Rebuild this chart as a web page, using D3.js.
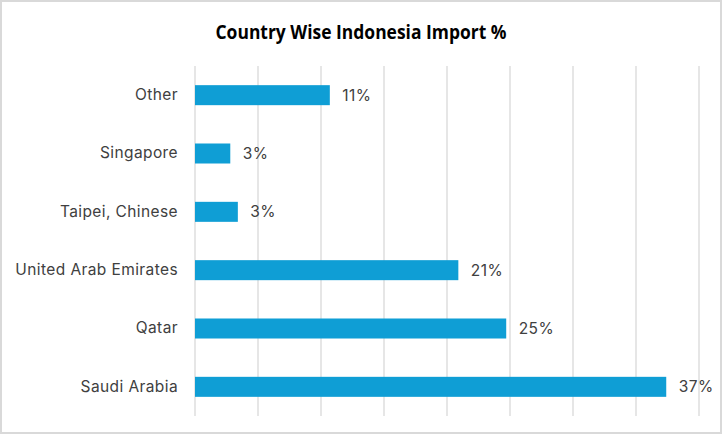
<!DOCTYPE html>
<html><head><meta charset="utf-8">
<script src="https://cdn.jsdelivr.net/npm/d3@7"></script>
<style>body{margin:0;background:#fff}svg{display:block}</style>
</head><body>
<svg id="c" width="722" height="434"></svg>
<script>
const categories = ["Other","Singapore","Taipei, Chinese","United Arab Emirates","Qatar","Saudi Arabia"];
const values = [0.107, 0.028, 0.034, 0.209, 0.247, 0.374];
const valueLabels = ["11%","3%","3%","21%","25%","37%"];
const gridTicks = [0,0.05,0.10,0.15,0.20,0.25,0.30,0.35,0.40];
const title = "Country Wise Indonesia Import %";

const svg = d3.select("#c");
svg.append("rect").attr("x",1).attr("y",1).attr("width",720).attr("height",432)
  .attr("fill","#fff").attr("stroke","#d9d9d9").attr("stroke-width",2);

const x = d3.scaleLinear().domain([0,0.40]).range([195,699]);
const y = d3.scaleBand().domain(categories).range([66,416]).paddingInner(0.657).paddingOuter(0.3285);

svg.append("g").selectAll("line").data(gridTicks).join("line")
  .attr("x1",d=>x(d)).attr("x2",d=>x(d)).attr("y1",66).attr("y2",416)
  .attr("stroke","#d9d9d9").attr("stroke-width",1.3);

svg.append("g").selectAll("rect").data(categories).join("rect")
  .attr("x",x(0)).attr("y",d=>y(d)).attr("height",y.bandwidth())
  .attr("width",(d,i)=>x(values[i])-x(0)).attr("fill","#0f9ed5");

const lblFont = "Inter, 'Open Sans', sans-serif";
svg.append("g").selectAll("text").data(categories).join("text")
  .attr("x",(d,i)=>x(values[i])+12.5).attr("y",d=>y(d)+y.bandwidth()/2)
  .attr("dy","0.36em").attr("font-family",lblFont).attr("font-size",15.5).attr("letter-spacing",0.4)
  .attr("fill","#404040").text((d,i)=>valueLabels[i]);

const yAxis = d3.axisLeft(y).tickSize(0).tickPadding(17);
const ga = svg.append("g").attr("transform","translate(195,0)").call(yAxis);
ga.select(".domain").remove();
ga.selectAll("text").attr("font-family",lblFont).attr("font-size",15.5).attr("letter-spacing",0.4).attr("fill","#404040");

svg.append("text").attr("x",361).attr("y",38.5).attr("text-anchor","middle")
  .attr("font-family","'Open Sans', sans-serif").attr("font-weight","bold").attr("font-size",19.5)
  .attr("textLength",291).attr("lengthAdjust","spacingAndGlyphs")
  .attr("fill","#000").text(title);
</script>
</body></html>
